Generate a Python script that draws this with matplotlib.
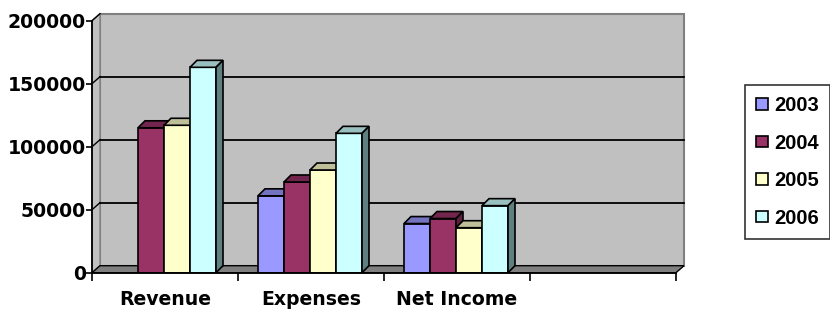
import numpy as np
import matplotlib
matplotlib.use('Agg')
import matplotlib.pyplot as plt
from matplotlib.patches import Polygon, Patch

# data
categories = ['Revenue', 'Expenses', 'Net Income', '']
years = ['2003', '2004', '2005', '2006']
v2003 = [np.nan, 61000, 39000, np.nan]
v2004 = [115000, 72000, 43000, np.nan]
v2005 = [117000, 81500, 35700, np.nan]
v2006 = [163000, 110600, 53200, np.nan]
series = [v2003, v2004, v2005, v2006]

front_cols = ['#9999FF', '#993366', '#FFFFCC', '#CCFFFF']
top_cols = ['#7373BF', '#73264D', '#BFBF99', '#99BFBF']
side_cols = ['#5C5C99', '#5C1F3D', '#99997A', '#5F8080']

fig = plt.figure(figsize=(8.3, 3.12), dpi=100)
ax = fig.add_axes([92 / 830, (312 - 272.7) / 312, 584 / 830, 252 / 312])
ax.set_xlim(0, 4)
ax.set_ylim(0, 200000)
ax.patch.set_visible(False)

def shift(dx, dy):
    # pixel offset -> data offset
    p = ax.transData.transform([(0, 0)])[0]
    q = ax.transData.inverted().transform([p + np.array([dx, dy])])[0]
    return q[0], q[1]

wx, wy = shift(8, 7)   # wall depth
bx, by = shift(7, 7)   # bar depth
ymax = 200000

# walls and floor
ax.add_patch(Polygon([(wx, wy), (4 + wx, wy), (4 + wx, ymax + wy), (wx, ymax + wy)],
                     closed=True, fc='#C0C0C0', ec='#808080', lw=1.5, zorder=0.5, clip_on=False))
ax.add_patch(Polygon([(0, 0), (wx, wy), (wx, ymax + wy), (0, ymax)],
                     closed=True, fc='#C0C0C0', ec='#808080', lw=1.0, zorder=0.5, clip_on=False))
ax.add_patch(Polygon([(0, 0), (4, 0), (4 + wx, wy), (wx, wy)],
                     closed=True, fc='#808080', ec='black', lw=1.0, zorder=0.7, clip_on=False))

for v in [50000, 100000, 150000]:
    ax.plot([wx, 4 + wx], [v + wy, v + wy], color='black', lw=1.3, zorder=0.6, clip_on=False)
for v in [50000, 100000, 150000, 200000]:
    ax.plot([0, wx], [v, v + wy], color='black', lw=1.0, zorder=0.6, clip_on=False)

# 3D-ish bars
w = 26 / 146
x = np.arange(len(categories))
for i, vals in enumerate(series):
    x0 = x + 0.137 + i * w
    vals = np.array(vals, dtype=float)
    ok = ~np.isnan(vals)
    ax.bar(x0[ok], vals[ok], width=w, align='edge', color=front_cols[i],
           edgecolor='black', lw=1.2, zorder=2)
    for xl, h in zip(x0[ok], vals[ok]):
        xr = xl + w
        ax.add_patch(Polygon([(xl, h), (xr, h), (xr + bx, h + by), (xl + bx, h + by)],
                             closed=True, fc=top_cols[i], ec='black', lw=1.2, zorder=2, clip_on=False))
        ax.add_patch(Polygon([(xr, 0), (xr, h), (xr + bx, h + by), (xr + bx, by)],
                             closed=True, fc=side_cols[i], ec='black', lw=1.2, zorder=2, clip_on=False))

# axes
for s in ['top', 'right']:
    ax.spines[s].set_visible(False)
for s in ['left', 'bottom']:
    ax.spines[s].set_color('black')
    ax.spines[s].set_linewidth(1.3)
    ax.spines[s].set_zorder(3)

ax.set_yticks(range(0, 200001, 50000))
ax.set_yticklabels([str(t) for t in range(0, 200001, 50000)],
                   fontsize=13.6, fontweight='bold', family='DejaVu Sans')
ax.tick_params(axis='y', length=4, width=1.2, pad=0.5, color='black')

ax.set_xticks(np.arange(0, 5))
ax.set_xticklabels([])
ax.tick_params(axis='x', which='major', length=6, width=1.2, color='black')
ax.set_xticks(x + 0.5, minor=True)
ax.set_xticklabels(categories, minor=True, fontsize=13.6, fontweight='bold', family='DejaVu Sans')
ax.tick_params(axis='x', which='minor', length=0, pad=12.5)

handles = [Patch(facecolor=front_cols[i], edgecolor='black', lw=1.2, label=years[i]) for i in range(4)]
leg = fig.legend(handles=handles, loc='upper left', bbox_to_anchor=(745 / 830, 1 - 85 / 312),
                 borderaxespad=0, fancybox=False, shadow=False, frameon=True,
                 prop={'family': 'Liberation Sans', 'weight': 'bold', 'size': 14.5},
                 handlelength=0.6, handleheight=0.5, handletextpad=0.3,
                 labelspacing=0.92, borderpad=0.55)
leg.get_frame().set_edgecolor('black')
leg.get_frame().set_linewidth(1.2)

fig.savefig('out.png', dpi=100)
